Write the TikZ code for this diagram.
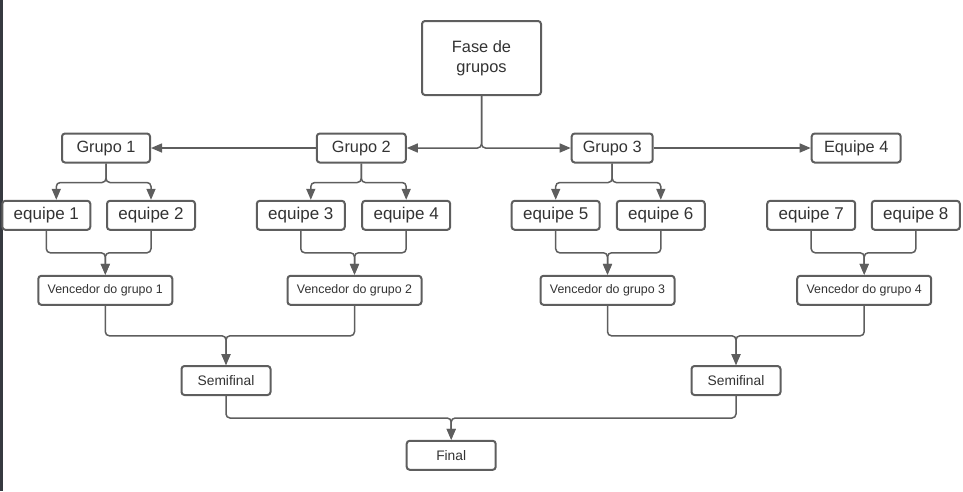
\documentclass[tikz,border=0pt]{standalone}
\usepackage{fontspec}
\setmainfont{Liberation Sans}
\usetikzlibrary{arrows.meta}
\definecolor{linec}{HTML}{5E5E5E}
\definecolor{textc}{HTML}{333333}
\definecolor{barc}{HTML}{363A40}
\tikzset{
  box/.style={draw=linec, line width=2pt, rounded corners=3pt, fill=white, text=textc,
    inner sep=0pt, align=center},
  grp/.style={box, minimum height=29pt, font=\fontsize{16.3}{19}\selectfont},
  eq/.style={box, minimum width=88pt, minimum height=29pt, font=\fontsize{17}{20}\selectfont},
  venc/.style={box, minimum width=134pt, minimum height=29pt, font=\fontsize{12.4}{15}\selectfont},
  fin/.style={box, minimum width=89pt, minimum height=29pt, font=\fontsize{13.8}{16}\selectfont},
  conn/.style={draw=linec, line width=1.5pt, rounded corners=4pt},
  arr/.style={conn, -{Triangle[length=11pt,width=9pt]}},
}
\begin{document}
\begin{tikzpicture}[x=1pt,y=-1pt]
\useasboundingbox (0,0) rectangle (963,491);
\fill[barc] (0,0) rectangle (2.5,491);

\node[box, minimum width=119pt, minimum height=74pt, font=\fontsize{16.4}{20}\selectfont] (fase) at (481.5,58) {Fase de\\grupos};

\node[grp, minimum width=88pt] (g1) at (106,148) {Grupo 1};
\node[grp, minimum width=89pt] (g2) at (361.3,148) {Grupo 2};
\node[grp, minimum width=81pt] (g3) at (612.2,148) {Grupo 3};
\node[grp, minimum width=89pt] (g4) at (856.2,148) {Equipe 4};

\node[eq] (e1) at (46.3,215.3) {equipe 1};
\node[eq] (e2) at (151,215.3) {equipe 2};
\node[eq] (e3) at (300.8,215.3) {equipe 3};
\node[eq] (e4) at (406.2,215.3) {equipe 4};
\node[eq] (e5) at (555.7,215.3) {equipe 5};
\node[eq] (e6) at (660.8,215.3) {equipe 6};
\node[eq] (e7) at (811.2,215.3) {equipe 7};
\node[eq] (e8) at (915.8,215.3) {equipe 8};

\node[venc] (v1) at (105.3,290.3) {Vencedor do grupo 1};
\node[venc] (v2) at (354.5,290.3) {Vencedor do grupo 2};
\node[venc] (v3) at (607.5,290.3) {Vencedor do grupo 3};
\node[venc] (v4) at (864.2,290.3) {Vencedor do grupo 4};

\node[fin] (s1) at (226,380.5) {Semifinal};
\node[fin] (s2) at (736,380.5) {Semifinal};
\node[fin] (f) at (451.2,455.3) {Final};

% top level
\draw[arr] (fase.south) |- (g2.east);
\draw[arr] (fase.south) |- (g3.west);
\draw[arr] (g2.west) -- (g1.east);
\draw[arr] (g3.east) -- (g4.west);

% groups to teams
\draw[arr] (g1.south) -- ++(0,19) -| ([xshift=10pt]e1.north);
\draw[arr] (g1.south) -- ++(0,19) -| (e2.north);
\draw[arr] (g2.south) -- ++(0,19) -| ([xshift=10pt]e3.north);
\draw[arr] (g2.south) -- ++(0,19) -| (e4.north);
\draw[arr] (g3.south) -- ++(0,19) -| (e5.north);
\draw[arr] (g3.south) -- ++(0,19) -| (e6.north);

% teams to winners
\draw[arr] (e1.south) -- ++(0,22) -| (v1.north);
\draw[arr] (e2.south) -- ++(0,22) -| (v1.north);
\draw[arr] (e3.south) -- ++(0,22) -| (v2.north);
\draw[arr] (e4.south) -- ++(0,22) -| (v2.north);
\draw[arr] (e5.south) -- ++(0,22) -| (v3.north);
\draw[arr] (e6.south) -- ++(0,22) -| (v3.north);
\draw[arr] (e7.south) -- ++(0,22) -| (v4.north);
\draw[arr] (e8.south) -- ++(0,22) -| (v4.north);

% winners to semifinals
\draw[arr] (v1.south) -- ++(0,30) -| (s1.north);
\draw[arr] (v2.south) -- ++(0,30) -| (s1.north);
\draw[arr] (v3.south) -- ++(0,30) -| (s2.north);
\draw[arr] (v4.south) -- ++(0,30) -| (s2.north);

% semifinals to final
\draw[arr] (s1.south) -- ++(0,22) -| (f.north);
\draw[arr] (s2.south) -- ++(0,22) -| (f.north);
\end{tikzpicture}
\end{document}
